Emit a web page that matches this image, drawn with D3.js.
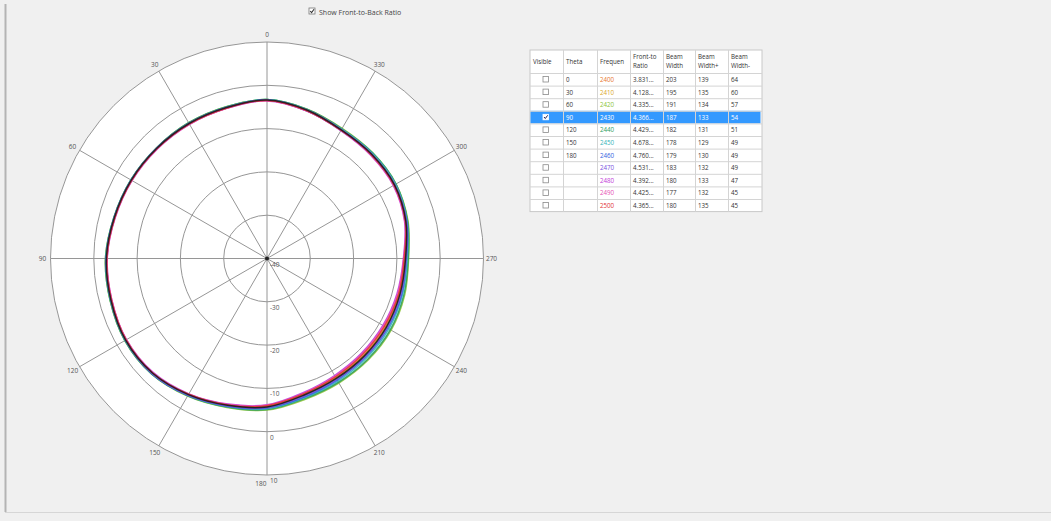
<!DOCTYPE html>
<html>
<head>
<meta charset="utf-8">
<script src="https://cdnjs.cloudflare.com/ajax/libs/d3/7.8.5/d3.min.js"></script>
<style>
  html, body { margin: 0; padding: 0; background: #f0f0f0; }
  svg { display: block; font-family: "Open Sans", "Liberation Sans", sans-serif; }
</style>
</head>
<body>
<svg id="chart" width="1051" height="521"></svg>
<script>
// ---- DATA ----

// angles (degrees, counter-clockwise from top) at which every trace was read
var angles = [0, 15, 30, 45, 60, 75, 90, 105, 120, 135, 150, 165, 180, 195, 210, 225, 240, 255, 270, 285, 300, 315, 330, 345];

// frequencies and their colours (same as the table)
var freqs = [2400, 2410, 2420, 2430, 2440, 2450, 2460, 2470, 2480, 2490, 2500];
var freqColors = ["#e8772e", "#d9a82a", "#8cc43a", "#1c1c1c", "#2f9e5e", "#35b3b8", "#3461e0", "#7a4fe0", "#c23ad8", "#e650b4", "#e23434"];

// gain (dB) of each trace at the angles above
var gain2400 = [-3.5, -4.0, -4.1, -4.1, -3.9, -3.6, -3.0, -2.8, -2.4, -2.6, -3.7, -5.0, -5.8, -7.4, -8.2, -8.4, -8.4, -8.4, -8.1, -6.9, -6.0, -5.9, -5.7, -4.6];
var gain2410 = [-3.4, -4.0, -4.1, -4.0, -3.8, -3.5, -3.0, -2.8, -2.4, -2.6, -3.7, -4.9, -5.8, -7.3, -8.1, -8.3, -8.3, -8.3, -8.1, -6.8, -6.0, -5.9, -5.7, -4.6];
var gain2420 = [-3.3, -3.7, -3.8, -3.9, -3.7, -3.4, -2.7, -2.5, -2.1, -2.3, -3.3, -4.4, -5.0, -6.3, -6.8, -6.9, -6.9, -7.1, -7.3, -6.3, -5.6, -5.5, -5.3, -4.3];
var gain2430 = [-3.4, -3.9, -4.0, -4.0, -3.8, -3.5, -2.9, -2.7, -2.3, -2.6, -3.7, -4.9, -5.7, -7.3, -8.0, -8.2, -8.2, -8.2, -8.0, -6.8, -6.0, -5.9, -5.7, -4.5];
var gain2440 = [-3.3, -3.7, -3.8, -3.9, -3.7, -3.4, -2.7, -2.5, -2.1, -2.3, -3.4, -4.5, -5.1, -6.5, -7.0, -7.1, -7.1, -7.3, -7.4, -6.4, -5.6, -5.5, -5.4, -4.3];
var gain2450 = [-3.3, -3.8, -3.9, -3.9, -3.7, -3.4, -2.8, -2.6, -2.2, -2.4, -3.5, -4.6, -5.3, -6.7, -7.3, -7.5, -7.5, -7.6, -7.6, -6.5, -5.7, -5.6, -5.5, -4.4];
var gain2460 = [-3.4, -3.9, -4.0, -4.0, -3.8, -3.5, -2.9, -2.7, -2.3, -2.4, -3.5, -4.7, -5.5, -6.9, -7.6, -7.8, -7.8, -7.8, -7.8, -6.6, -6.1, -6.0, -5.8, -4.7];
var gain2470 = [-3.4, -3.9, -4.0, -4.0, -3.8, -3.5, -2.9, -2.7, -2.3, -2.5, -3.6, -4.8, -5.6, -7.1, -7.8, -8.0, -8.0, -8.0, -7.9, -6.7, -5.9, -5.8, -5.6, -4.5];
var gain2480 = [-3.6, -4.1, -4.2, -4.2, -4.0, -3.7, -3.1, -2.9, -2.5, -2.8, -3.9, -5.2, -6.2, -7.9, -8.8, -9.1, -9.1, -8.9, -8.5, -7.1, -6.3, -6.2, -5.9, -4.7];
var gain2490 = [-3.5, -4.1, -4.2, -4.1, -3.9, -3.6, -3.1, -2.9, -2.5, -2.7, -3.8, -5.1, -6.1, -7.7, -8.6, -8.9, -8.9, -8.7, -8.4, -7.0, -6.2, -6.1, -5.8, -4.7];
var gain2500 = [-3.5, -4.0, -4.1, -4.1, -3.9, -3.6, -3.0, -2.8, -2.4, -2.6, -3.8, -5.0, -6.0, -7.6, -8.4, -8.7, -8.7, -8.5, -8.3, -6.9, -6.1, -6.0, -5.8, -4.6];
var traces = [gain2400, gain2410, gain2420, gain2430, gain2440, gain2450, gain2460, gain2470, gain2480, gain2490, gain2500];

// polar grid labels
var spokeAngles = [0, 30, 60, 90, 120, 150, 180, 210, 240, 270, 300, 330];
var ringValues = [-30, -20, -10, 0, 10];
var radialLabels = ["-40", "-30", "-20", "-10", "0", "10"];

// table columns
var tableHeaders = [["Visible"], ["Theta"], ["Frequen"], ["Front-to", "Ratio"], ["Beam", "Width"], ["Beam", "Width+"], ["Beam", "Width-"]];
var thetaValues = ["0", "30", "60", "90", "120", "150", "180", "", "", "", ""];
var ftbRatio = ["3.831...", "4.128...", "4.335...", "4.366...", "4.429...", "4.678...", "4.760...", "4.531...", "4.392...", "4.425...", "4.365..."];
var beamWidth = [203, 195, 191, 187, 182, 178, 179, 183, 180, 177, 180];
var beamWidthPlus = [139, 135, 134, 133, 131, 129, 130, 132, 133, 132, 135];
var beamWidthMinus = [64, 60, 57, 54, 51, 49, 49, 49, 47, 45, 45];
var selectedRow = 3;

// ---- LAYOUT ----
var svg = d3.select("#chart");
var cx = 267, cy = 258.5, outerR = 216.5;

// window frame lines
svg.append("line").attr("x1", 5.5).attr("x2", 5.5).attr("y1", 4).attr("y2", 512)
    .attr("stroke", "#b4b4b4").attr("stroke-width", 2);
svg.append("line").attr("x1", 5).attr("x2", 1051).attr("y1", 512.5).attr("y2", 512.5)
    .attr("stroke", "#d6d6d6");

// "Show Front-to-Back Ratio" checkbox
var cb = svg.append("g").attr("transform", "translate(309,8)");
cb.append("rect").attr("width", 6).attr("height", 6).attr("fill", "#fff").attr("stroke", "#777").attr("stroke-width", 0.8);
cb.append("path").attr("d", "M1.2,3 L2.6,4.6 L5,1.3").attr("fill", "none").attr("stroke", "#333").attr("stroke-width", 1.1);
cb.append("text").attr("x", 10).attr("y", 6.5).attr("font-size", 7).attr("fill", "#444").text("Show Front-to-Back Ratio");

// radial scale: -40 dB at centre, 10 dB at outer ring
var r = d3.scaleLinear().domain([-40, 10]).range([0, outerR]);

var polar = svg.append("g").attr("transform", "translate(" + cx + "," + cy + ")");

// white plot disk
polar.append("circle").attr("r", outerR).attr("fill", "#fff");

// rings
polar.selectAll(".ring")
    .data(ringValues)
    .enter()
    .append("circle")
    .attr("class", "ring")
    .attr("r", d => r(d))
    .attr("fill", "none")
    .attr("stroke", "#969696")
    .attr("stroke-width", 1);

// spokes
polar.selectAll(".spoke")
    .data(spokeAngles)
    .enter()
    .append("line")
    .attr("class", "spoke")
    .attr("x1", 0).attr("y1", 0)
    .attr("x2", d => -Math.sin(d * Math.PI / 180) * outerR)
    .attr("y2", d => -Math.cos(d * Math.PI / 180) * outerR)
    .attr("stroke", "#969696")
    .attr("stroke-width", 1);

// spoke labels just outside the outer ring (180 sits left of the "10" ring label)
polar.selectAll(".spokeLabel")
    .data(spokeAngles)
    .enter()
    .append("text")
    .attr("class", "spokeLabel")
    .attr("x", d => d == 180 ? -0.5 : -Math.sin(d * Math.PI / 180) * (outerR + 8))
    .attr("y", d => -Math.cos(d * Math.PI / 180) * (outerR + 8) + 2.5)
    .attr("text-anchor", d => d == 180 ? "end" : "middle")
    .attr("font-size", 6.5)
    .attr("fill", "#555")
    .text(d => d);

// radial labels down the 180 spoke
polar.selectAll(".radialLabel")
    .data(radialLabels)
    .enter()
    .append("text")
    .attr("class", "radialLabel")
    .attr("x", 3)
    .attr("y", d => r(+d) + 8)
    .attr("font-size", 6.5)
    .attr("fill", "#555")
    .text(d => d);

// traces
var line = d3.lineRadial()
    .angle(d => -d.a * Math.PI / 180)
    .radius(d => r(d.v))
    .curve(d3.curveCatmullRomClosed);

// selected frequency (2430) drawn last
var order = [0, 1, 2, 4, 5, 6, 7, 8, 9, 10, 3];
order.forEach(function (i) {
    var pts = angles.map((a, j) => ({ a: a, v: traces[i][j] }));
    polar.append("path")
        .attr("d", line(pts))
        .attr("fill", "none")
        .attr("stroke", freqColors[i])
        .attr("stroke-width", 1.5)
        .attr("stroke-opacity", 0.9);
});

// centre dot
polar.append("circle").attr("r", 2).attr("fill", "#222");

// ---- TABLE ----
var colX = [530, 563, 597, 630, 663, 695, 728, 762];
var headTop = 50, headH = 23, rowH = 12.6;
var table = svg.append("g");

table.append("rect")
    .attr("x", colX[0]).attr("y", headTop)
    .attr("width", colX[7] - colX[0]).attr("height", headH + rowH * freqs.length)
    .attr("fill", "#fff").attr("stroke", "#c8c8c8");

// header
tableHeaders.forEach(function (lines, c) {
    var xm = colX[c] + 3;
    lines.forEach(function (t, k) {
        table.append("text")
            .attr("x", xm)
            .attr("y", lines.length == 1 ? headTop + 14 : headTop + 9 + k * 9)
            .attr("font-size", 6.2)
            .attr("fill", "#333")
            .text(t);
    });
});

// rows
freqs.forEach(function (f, i) {
    var y = headTop + headH + i * rowH;
    var sel = i == selectedRow;
    if (sel) {
        table.append("rect").attr("x", colX[0] + 0.5).attr("y", y).attr("width", colX[7] - colX[0] - 2).attr("height", rowH)
            .attr("fill", "#3399ff");
    }
    // horizontal grid line
    table.append("line").attr("x1", colX[0]).attr("x2", colX[7]).attr("y1", y + 0.5).attr("y2", y + 0.5)
        .attr("stroke", "#d4d4d4");

    // visible checkbox
    table.append("rect").attr("x", 543).attr("y", y + 3.5).attr("width", 5.5).attr("height", 5.5)
        .attr("fill", sel ? "#fff" : "none").attr("stroke", sel ? "#fff" : "#8a8a8a").attr("stroke-width", 0.8);
    if (sel) {
        table.append("path").attr("d", "M" + 544 + "," + (y + 6.2) + " l1.3,1.5 l2.4,-3.2")
            .attr("fill", "none").attr("stroke", "#225").attr("stroke-width", 1);
    }

    var cells = [thetaValues[i], f, ftbRatio[i], beamWidth[i], beamWidthPlus[i], beamWidthMinus[i]];
    cells.forEach(function (v, c) {
        table.append("text")
            .attr("x", colX[c + 1] + 3)
            .attr("y", y + 9)
            .attr("font-size", 6.2)
            .attr("fill", sel ? "#fff" : (c == 1 ? freqColors[i] : "#333"))
            .text(v);
    });
});

// vertical grid lines
colX.slice(1, 7).forEach(function (x) {
    table.append("line").attr("x1", x + 0.5).attr("x2", x + 0.5).attr("y1", headTop).attr("y2", headTop + headH + rowH * freqs.length)
        .attr("stroke", "#d4d4d4");
});
</script>
</body>
</html>
